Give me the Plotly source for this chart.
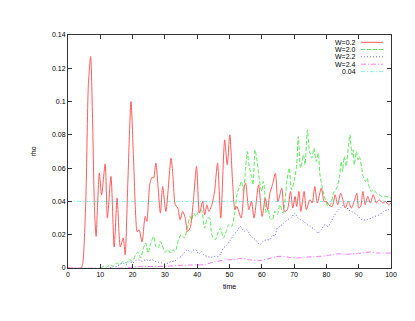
import plotly.graph_objects as go

# ---------------- data ----------------
t_w02 = [0, 4, 4.5, 5.5, 6.3, 7.0, 7.6, 8.2, 8.7, 9.2, 9.7, 10.4, 11.5, 12.2, 13.3, 14.3, 15.2, 16.2,
         17.1, 17.7, 18.5, 19.5, 20.2, 21.0, 21.4, 22.0, 22.9, 23.9, 24.4, 25.3, 26.0, 26.5, 27.2, 28.6,
         29.3, 30.3, 31.9, 32.5, 33.2, 34.0, 34.7, 35.5, 36.3, 37.0, 37.8, 38.8, 39.8, 40.7, 41.7, 42.3,
         43.0, 43.6, 44.4, 45.3, 46.3, 47.3, 48.5, 49.3, 50.1, 51.0, 51.7, 52.3, 53.6, 54.6, 55.0, 56.0,
         56.8, 57.6, 59.0, 60.1, 61.1, 61.8, 62.5, 63.3, 64.2, 65.0, 66.2, 67.0, 67.9, 68.9, 69.6, 70.3,
         70.8, 71.5, 72.1, 73.1, 73.8, 74.9, 75.6, 76.4, 77.2, 78.4, 79.3, 80.0, 80.7, 81.8, 82.7, 83.5,
         84.4, 85.2, 85.8, 86.8, 87.7, 88.6, 89.4, 90.0, 90.6, 91.3, 92.0, 92.8, 93.6, 94.5, 95.5, 96.3,
         97.5, 98.3, 99.2, 100]
rho_w02 = [0, 0, 0.002, 0.04, 0.11, 0.127, 0.09, 0.035, 0.019, 0.04, 0.057, 0.044, 0.0625, 0.03, 0.055,
           0.0126, 0.042, 0.0126, 0.018, 0.008, 0.05, 0.1, 0.07, 0.03, 0.0218, 0.023, 0.0156, 0.031, 0.028,
           0.05, 0.0545, 0.054, 0.063, 0.033, 0.049, 0.034, 0.066, 0.055, 0.038, 0.036, 0.029, 0.034, 0.03,
           0.022, 0.024, 0.04, 0.061, 0.033, 0.040, 0.032, 0.038, 0.034, 0.037, 0.045, 0.063, 0.030, 0.077,
           0.062, 0.080, 0.05, 0.035, 0.037, 0.030, 0.049, 0.051, 0.035, 0.040, 0.030, 0.050, 0.031, 0.042,
           0.035, 0.045, 0.050, 0.057, 0.040, 0.048, 0.034, 0.035, 0.046, 0.036, 0.043, 0.037, 0.046, 0.034,
           0.046, 0.035, 0.041, 0.039, 0.049, 0.039, 0.048, 0.040, 0.040, 0.038, 0.037, 0.044, 0.038, 0.045,
           0.040, 0.036, 0.040, 0.036, 0.040, 0.045, 0.036, 0.037, 0.046, 0.038, 0.043, 0.039, 0.044, 0.039,
           0.041, 0.039, 0.040, 0.038, 0.039]

t_w20 = [10, 11, 12, 13, 14, 15, 16, 17, 18, 19, 20, 21, 21.7, 22.5, 23.2, 24, 24.8, 25.5, 26.5, 27.2,
         28.0, 28.5, 29.2, 30, 31, 31.6, 32.5, 33.2, 34.2, 35.0, 35.5, 36.1, 36.8, 37.8, 38.3, 38.9, 39.6,
         40.5, 41.3, 42.3, 43.2, 43.9, 44.5, 45.6, 46.4, 47.2, 48.1, 49.0, 49.7, 50.7, 51.6, 52.4, 53.0,
         53.7, 54.3, 55.0, 55.5, 56.0, 56.8, 57.3, 57.9, 58.5, 59.3, 60.0, 60.4, 60.8, 61.3, 62.0, 62.5,
         63.3, 64.0, 64.8, 65.6, 66.6, 67.8, 68.5, 69.2, 70.0, 70.8, 71.3, 72.0, 72.9, 73.4, 74.1, 74.8,
         75.5, 76.1, 76.9, 77.5, 78.0, 79.0, 79.7, 80.5, 81.3, 82.2, 83.2, 84.0, 84.6, 85.0, 85.5, 86.1,
         86.8, 87.3, 87.9, 88.3, 88.6, 89.3, 89.8, 90.2, 91.4, 92.1, 92.6, 93.2, 93.8, 94.5, 95.5, 96.4,
         97.2, 98.5, 100]
rho_w20 = [0, 0.001, 0.0005, 0.002, 0.001, 0.003, 0.002, 0.004, 0.003, 0.005, 0.004, 0.0085, 0.0095,
           0.006, 0.011, 0.015, 0.009, 0.014, 0.019, 0.013, 0.012, 0.016, 0.0136, 0.0095, 0.011, 0.009,
           0.011, 0.010, 0.017, 0.020, 0.019, 0.018, 0.023, 0.031, 0.029, 0.033, 0.031, 0.034, 0.035,
           0.024, 0.030, 0.030, 0.020, 0.017, 0.021, 0.024, 0.018, 0.022, 0.026, 0.025, 0.033, 0.045,
           0.048, 0.052, 0.046, 0.060, 0.070, 0.062, 0.055, 0.050, 0.071, 0.065, 0.052, 0.046, 0.052,
           0.049, 0.033, 0.036, 0.030, 0.029, 0.034, 0.032, 0.038, 0.033, 0.053, 0.060, 0.047, 0.052,
           0.062, 0.079, 0.060, 0.068, 0.062, 0.083, 0.070, 0.066, 0.072, 0.064, 0.069, 0.056, 0.046,
           0.041, 0.037, 0.038, 0.045, 0.048, 0.054, 0.064, 0.058, 0.067, 0.061, 0.073, 0.080, 0.068,
           0.071, 0.062, 0.070, 0.065, 0.067, 0.055, 0.052, 0.054, 0.049, 0.046, 0.047, 0.045, 0.044,
           0.043, 0.043, 0.042]

t_w22 = [13, 14, 15, 16, 17, 18, 19, 20, 21, 22, 23, 24, 25, 26, 27, 28, 29, 30, 31, 32, 33, 34, 35,
         35.8, 37, 37.5, 38.2, 39, 39.5, 40.5, 41.3, 42, 43.3, 44.3, 45.5, 46.5, 47.3, 48.1, 49, 50.4,
         51.3, 52.3, 53.3, 53.8, 54.5, 55.3, 56.7, 58, 59.4, 60.3, 61.5, 62.5, 63.4, 64, 64.8, 65.7,
         66.8, 68, 69, 70.3, 71.2, 72, 73, 74, 75, 76.4, 77.4, 78.4, 79.5, 80.5, 81.5, 82.3, 83.3, 84.8,
         85.8, 86.8, 87.8, 89.4, 91, 92.5, 94, 95, 96.5, 97.6, 99, 100]
rho_w22 = [0, 0.001, 0.0008, 0.002, 0.003, 0.002, 0.004, 0.003, 0.0045, 0.0048, 0.004, 0.005, 0.0045,
           0.005, 0.004, 0.0035, 0.003, 0.0025, 0.003, 0.004, 0.004, 0.006, 0.0068, 0.0088, 0.011, 0.010,
           0.0095, 0.011, 0.011, 0.0085, 0.010, 0.008, 0.0068, 0.0065, 0.007, 0.0068, 0.0088, 0.012,
           0.0135, 0.017, 0.020, 0.022, 0.025, 0.024, 0.022, 0.023, 0.019, 0.017, 0.014, 0.016, 0.017,
           0.017, 0.020, 0.019, 0.024, 0.025, 0.027, 0.029, 0.030, 0.033, 0.030, 0.029, 0.028, 0.026,
           0.025, 0.023, 0.021, 0.023, 0.026, 0.025, 0.028, 0.031, 0.034, 0.037, 0.039, 0.035, 0.034,
           0.032, 0.029, 0.029, 0.030, 0.031, 0.032, 0.034, 0.035, 0.035]

t_w24 = [0, 18, 20, 22, 26, 30, 34, 38, 42, 45, 48.7, 51, 53.8, 56, 59, 62.5, 64.4, 66, 68.7, 71, 73,
         76, 78, 80, 83.4, 86, 88, 90, 93.6, 96, 100]
rho_w24 = [0, 0, 0.0005, 0.0008, 0.0009, 0.001, 0.0015, 0.0018, 0.002, 0.0035, 0.0048, 0.005, 0.0058,
           0.005, 0.0044, 0.0058, 0.0068, 0.007, 0.0064, 0.006, 0.0064, 0.0068, 0.007, 0.0074, 0.0085,
           0.0082, 0.0085, 0.0088, 0.0096, 0.009, 0.009]

t_ref = [0, 100]
rho_ref = [0.04, 0.04]

names = ["W=0.2", "W=2.0", "W=2.2", "W=2.4", "0.04"]
colors = ["#ff5c5c", "#5ae85a", "#6464ff", "#ff74ff", "#86f4f4"]
dashes = ["solid", "4px,2px", "1px,2px", "5px,2px,1px,2px", "4px,2px,1px,2px"]

x_ticks = [0, 10, 20, 30, 40, 50, 60, 70, 80, 90, 100]
y_ticks = [0, 0.02, 0.04, 0.06, 0.08, 0.1, 0.12, 0.14]
y_ticktext = ["0", "0.02", "0.04", "0.06", "0.08", "0.1", "0.12", "0.14"]

series = [(t_w02, rho_w02), (t_w20, rho_w20), (t_w22, rho_w22), (t_w24, rho_w24), (t_ref, rho_ref)]

fig = go.Figure()
order = [4, 3, 2, 1, 0]
for i in order:
    tx, ry = series[i]
    fig.add_trace(go.Scatter(
        x=tx, y=ry, mode="lines", name=names[i],
        line=dict(color=colors[i], width=1, dash=dashes[i],
                  shape="spline" if i < 4 else "linear", smoothing=0.7),
        showlegend=False, hoverinfo="skip"))

# page has an 8px body margin; work in window pixels and convert
OFF = 8
W, H = 415 - OFF, 321 - OFF
L, R, T, B = 68 - OFF, 391 - OFF, 35 - OFF, 268 - OFF
pw, ph = R - L, B - T

def px(x):
    return (x - OFF - L) / pw

def py(y):
    return (B - (y - OFF)) / ph

font = dict(family="Liberation Sans, Arial, sans-serif", size=7, color="#000000")

rows = [42.3, 49.5, 56.8, 64.2, 71.6]
annotations = []
shapes = []
for i, yy in enumerate(rows):
    annotations.append(dict(x=px(357.5), y=py(yy), xref="paper", yref="paper",
                            text=names[i], showarrow=False, xanchor="right", yanchor="middle",
                            font=font))
    shapes.append(dict(type="line", xref="paper", yref="paper",
                       x0=px(361), x1=px(383), y0=py(yy), y1=py(yy),
                       line=dict(color=colors[i], width=1, dash=dashes[i])))

fig.update_layout(
    width=W, height=H,
    margin=dict(l=L, r=W - R, t=T, b=H - B, pad=0),
    paper_bgcolor="white", plot_bgcolor="white",
    font=font,
    showlegend=False,
    annotations=annotations,
    shapes=shapes,
    xaxis=dict(range=[0, 100], tickvals=x_ticks, ticks="inside", ticklen=4, tickcolor="#333",
               showline=True, linecolor="#333", linewidth=1, mirror="ticks",
               showgrid=False, zeroline=False, title=dict(text="time", font=font, standoff=6),
               tickfont=font),
    yaxis=dict(range=[0, 0.14], tickvals=y_ticks, ticktext=y_ticktext, ticks="inside",
               ticklen=4, tickcolor="#333",
               showline=True, linecolor="#333", linewidth=1, mirror="ticks",
               showgrid=False, zeroline=False, title=dict(text="rho", font=font, standoff=14),
               tickfont=font),
)

fig.write_html("out.html")
